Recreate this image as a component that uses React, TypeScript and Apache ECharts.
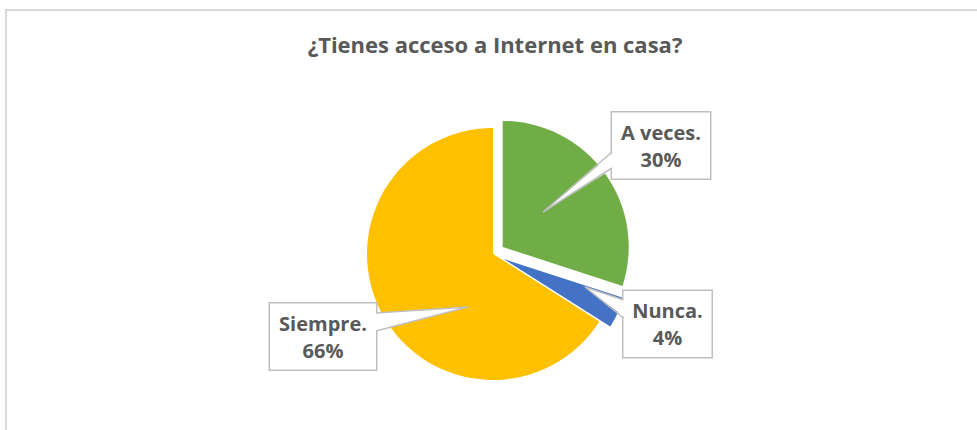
import React, { useEffect, useRef } from 'react';
import * as echarts from 'echarts';

// ---- data ----
const TITLE = '¿Tienes acceso a Internet en casa?';
const categories = ['A veces.', 'Nunca.', 'Siempre.'];
const values = [30, 4, 66];
const colors = ['#70AD47', '#4472C4', '#FFC000'];
const exploded = [true, true, false];

// ---- layout (not data) ----
const W = 977;
const H = 430;
const CENTER: [number, number] = [493, 254];
const RADIUS = 126;
const FONT = '"Open Sans", Lato, sans-serif';
const TEXT_COLOR = '#595959';
const BOX_BORDER = '#bfbfbf';
const PAD_X = 9;
const PAD_TOP = 7;
const PAD_BOTTOM = 5;
const LINE_H = 27;
const LABEL_SIZE = 20;
// label callout boxes: left, top, width
const LABEL_BOXES = [
  { left: 612, top: 112.5, w: 98 },
  { left: 623.5, top: 291, w: 88 },
  { left: 270, top: 303.5, w: 106 },
];
// callout pointer tips and base spans (y range on box edge)
const POINTER_TIPS: [number, number][] = [
  [543, 212],
  [585, 287],
  [468, 307],
];
const POINTER_BASE_Y: [number, number][] = [
  [152, 168],
  [300, 318],
  [313, 331],
];

const BOX_H = LINE_H * 2 + PAD_TOP + PAD_BOTTOM;

function percents(): number[] {
  const total = values.reduce((a, b) => a + b, 0);
  return values.map((v) => Math.round((v / total) * 100));
}

function buildLabels(): any[] {
  const pct = percents();
  const els: any[] = [];
  LABEL_BOXES.forEach((b, i) => {
    els.push({
      type: 'text',
      z: 50,
      silent: true,
      style: {
        text: `${categories[i]}\n${pct[i]}%`,
        x: b.left + b.w / 2,
        y: b.top + BOX_H / 2,
        align: 'center',
        verticalAlign: 'middle',
        width: b.w - PAD_X * 2,
        lineHeight: LINE_H,
        padding: [PAD_TOP, PAD_X, PAD_BOTTOM, PAD_X],
        backgroundColor: '#ffffff',
        borderColor: BOX_BORDER,
        borderWidth: 1.5,
        fill: TEXT_COLOR,
        fontFamily: FONT,
        fontWeight: 'bold',
        fontSize: LABEL_SIZE,
      },
    });
    const tip = POINTER_TIPS[i];
    const onLeft = tip[0] < b.left;
    const ex = onLeft ? b.left : b.left + b.w;
    const inset = onLeft ? 2 : -2;
    const [ya, yb] = POINTER_BASE_Y[i];
    els.push({
      type: 'polygon',
      z: 100,
      silent: true,
      shape: { points: [[ex + inset, ya], tip, [ex + inset, yb]] },
      style: { fill: '#ffffff', stroke: 'none' },
    });
    els.push({
      type: 'polyline',
      z: 101,
      silent: true,
      shape: { points: [[ex, ya], tip, [ex, yb]] },
      style: { fill: 'none', stroke: BOX_BORDER, lineWidth: 1.5 },
    });
  });
  return els;
}

export default function App() {
  const ref = useRef<HTMLDivElement>(null);
  useEffect(() => {
    if (!ref.current) return;
    const chart = echarts.init(ref.current, undefined, { renderer: 'svg' });
    const data = categories.map((name, i) => ({
      name,
      value: values[i],
      selected: exploded[i],
      itemStyle: { color: colors[i] },
    }));
    chart.setOption({
      animation: false,
      backgroundColor: '#ffffff',
      title: {
        text: TITLE,
        left: 495,
        top: 33,
        padding: 0,
        textAlign: 'center',
        textStyle: {
          fontFamily: FONT,
          fontWeight: 'bold',
          fontSize: 22,
          color: TEXT_COLOR,
        },
      },
      graphic: [
        {
          type: 'rect',
          z: -10,
          silent: true,
          shape: { x: 6, y: 10, width: 1200, height: 900 },
          style: { fill: 'none', stroke: '#d9d9d9', lineWidth: 2 },
        },
        ...buildLabels(),
      ],
      series: [
        {
          type: 'pie',
          center: CENTER,
          radius: [0, RADIUS],
          startAngle: 90,
          clockwise: true,
          selectedMode: 'multiple',
          selectedOffset: 12,
          avoidLabelOverlap: false,
          emphasis: { disabled: true },
          itemStyle: { borderWidth: 0 },
          label: { show: false },
          labelLine: { show: false },
          data,
        },
      ],
    });
    return () => chart.dispose();
  }, []);
  return (
    <div
      ref={ref}
      style={{ position: 'fixed', left: 0, top: 0, width: W, height: H }}
    />
  );
}
